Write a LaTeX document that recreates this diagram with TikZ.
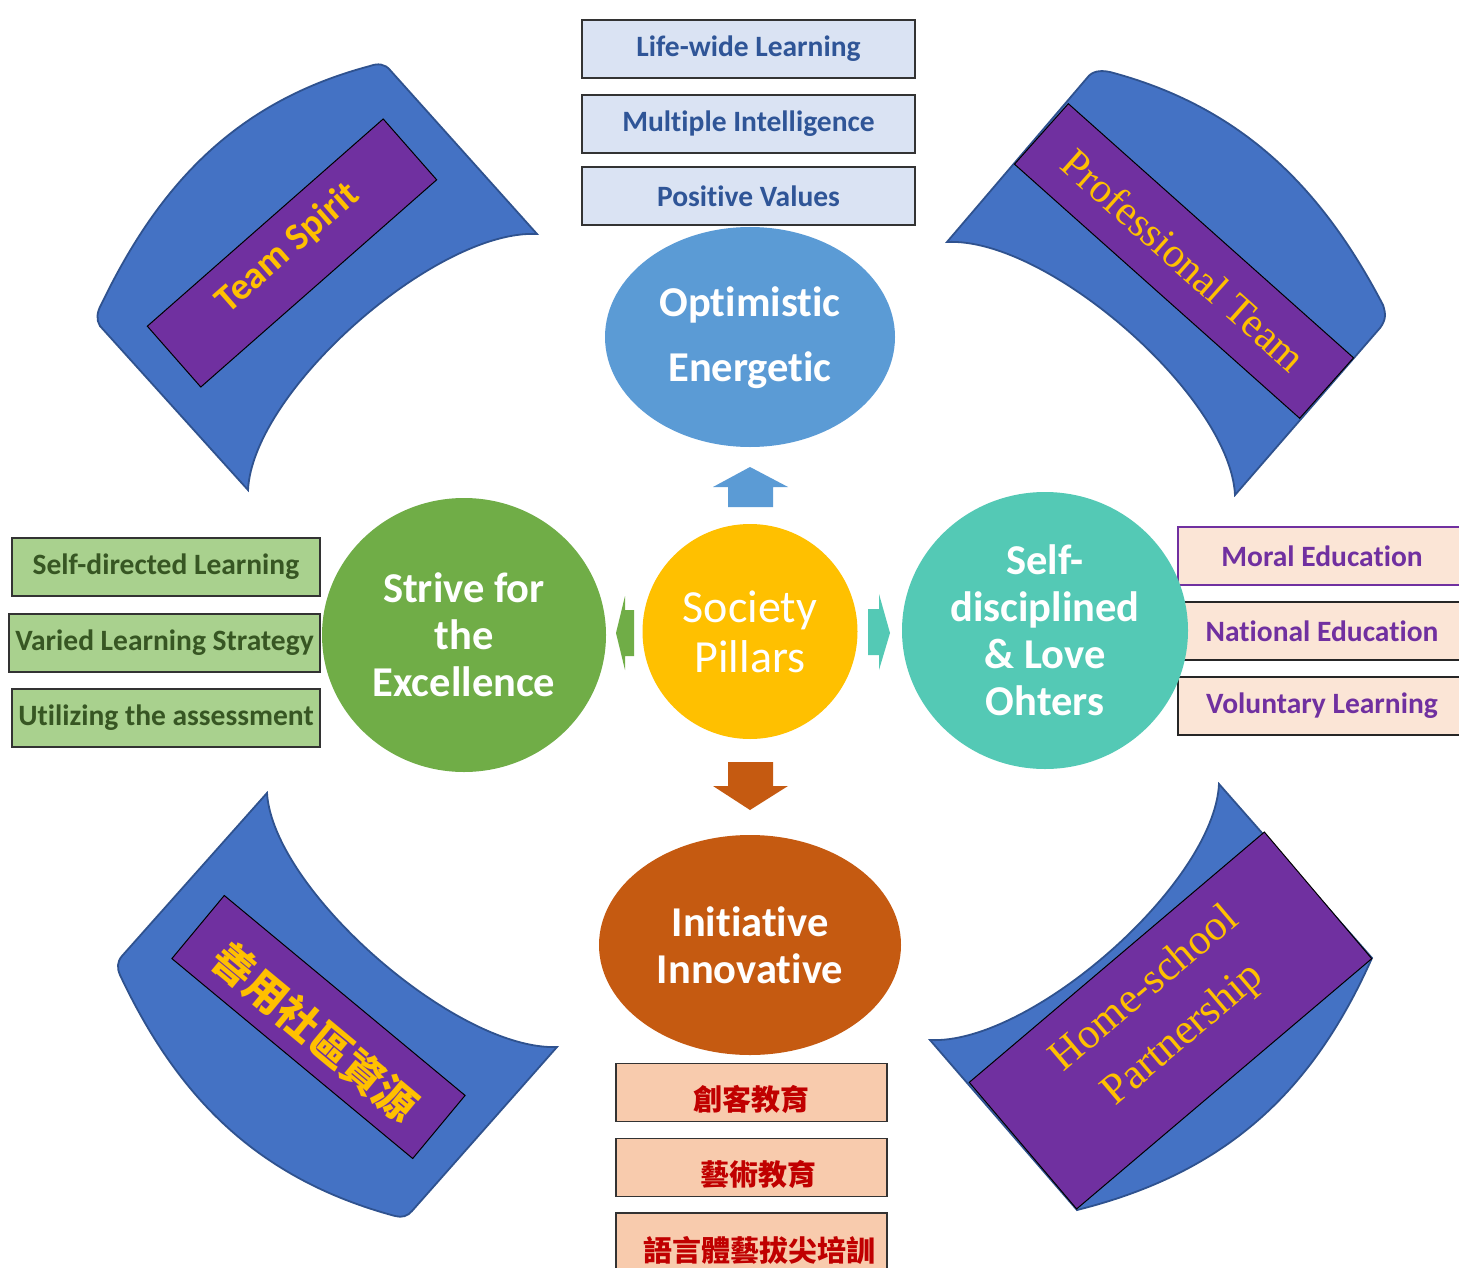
\documentclass[tikz,border=0pt]{standalone}
\usepackage{fontspec}
\setmainfont{Carlito}[RawFeature={-liga;-clig;-dlig;-calt;-rlig}]
\newfontfamily\serifx{Liberation Serif}
\newfontfamily\cjk{Noto Sans CJK TC}
\usetikzlibrary{shapes.geometric,calc}
\newcommand\tii{t\kern0pt i}
\definecolor{bandblue}{HTML}{4472C4}
\definecolor{bandedge}{HTML}{2F528F}
\definecolor{purp}{HTML}{7030A0}
\definecolor{gold}{HTML}{FFC000}
\definecolor{skyb}{HTML}{5B9BD5}
\definecolor{boxblue}{HTML}{DAE3F3}
\definecolor{txtblue}{HTML}{2F5597}
\definecolor{grn}{HTML}{70AD47}
\definecolor{lgrn}{HTML}{A9D18E}
\definecolor{dgrn}{HTML}{375623}
\definecolor{teal2}{RGB}{84,201,181}
\definecolor{peach}{HTML}{FBE5D6}
\definecolor{rust}{HTML}{C55A11}
\definecolor{salmon}{HTML}{F8CBAD}
\definecolor{dred}{HTML}{C00000}
\begin{document}
\begin{tikzpicture}[x=1pt,y=-1pt,
  banner/.style={fill=bandblue,draw=bandedge,line width=1.8},
  pband/.style={fill=purp,draw=black,line width=1,inner sep=0,rectangle},
  bandtxt/.style={text=gold,inner sep=0,align=center},
  topbox/.style={draw=black!80,line width=1.3,fill=boxblue,text=txtblue,
    font=\bfseries\fontsize{29.5}{32}\selectfont,minimum width=333,minimum height=58,inner sep=0},
  gbox/.style={draw=black!80,line width=1.3,fill=lgrn,text=dgrn,
    font=\bfseries\fontsize{29.5}{32}\selectfont,minimum height=58,inner sep=0},
  rbox/.style={draw=black!85,line width=1.3,fill=peach,text=purp,
    font=\bfseries\fontsize{29.5}{32}\selectfont,minimum width=288,minimum height=58,inner sep=0},
  bbox/.style={draw=black!80,line width=1.3,fill=salmon,minimum width=271,minimum height=58,inner sep=0},
  btxt/.style={text=dred,font=\cjk\bfseries\fontsize{29}{32}\selectfont,inner sep=0},
  bigtxt/.style={text=white,font=\bfseries\fontsize{42.5}{47}\selectfont,align=center,inner sep=0},
  blob/.style={ellipse,inner sep=0}]
\useasboundingbox (0,0) rectangle (1459,1268);
\clip (0,0) rectangle (1459,1268);
\fill[white] (0,0) rectangle (1459,1268);

% ---- blue banners ----
\path[banner] (100,326) .. controls (96,320) and (97,312) .. (101,305)
  .. controls (160,182) and (238,101) .. (370,66)
  .. controls (378,63) and (385,64) .. (390,70)
  -- (537,234) .. controls (437,229) and (253,390) .. (248,490) -- cycle;
\path[banner] (1087,78) .. controls (1092,71) and (1100,70) .. (1110,72)
  .. controls (1242,107) and (1322,188) .. (1383,305)
  .. controls (1386,314) and (1386,320) .. (1380,328)
  -- (1235,495) .. controls (1230,396) and (1047,237) .. (947,242) -- cycle;
\path[banner] (267,793) -- (122,956) .. controls (117,962) and (117,968) .. (120,975)
  .. controls (178,1098) and (258,1179) .. (395,1216)
  .. controls (402,1218) and (408,1216) .. (412,1211)
  -- (557,1047) .. controls (457,1051) and (273,890) .. cycle;
\path[banner] (1219,784) -- (1372,958) .. controls (1312,1093) and (1225,1173) .. (1077,1210)
  -- (930,1040) .. controls (1030,1045) and (1214,884) .. cycle;

% ---- purple bands ----
\node[pband,rotate=41.3,minimum width=314,minimum height=81] (ts) at (292,253) {};
\node[bandtxt,rotate=41.3,font=\bfseries\fontsize{38}{44}\selectfont] (tst) at ($(ts.center)+(-4,-5)$) {Team Spirit};
\node[pband,rotate=-41.7,minimum width=382,minimum height=81] (pt) at (1184,261) {};
\node[bandtxt,rotate=-41.7,font=\serifx\fontsize{42}{48}\selectfont] (ptt) at ($(pt.center)+(0,-1)$) {Professional Team};
\node[pband,rotate=-39.7,minimum width=313,minimum height=82] (cr) at (318.5,1027) {};
\node[bandtxt,rotate=-39.7,font=\cjk\bfseries\fontsize{42}{50}\selectfont] (crt) at ($(cr.center)+(-3,5)$) {善用社區資源};
\node[pband,rotate=40.3,minimum width=387,minimum height=166] (hp) at (1170.5,1020.5) {};
\node[bandtxt,rotate=40.3,font=\serifx\fontsize{43}{60}\selectfont] (hpt) at ($(hp.center)+(-6,-8)$) {Home-school\\Partnership};

% ---- top boxes ----
\node[topbox] (lw) at (748.5,49) {Life-wide Learning};
\node[topbox] (mi) at (748.5,124) {Mul\tii ple Intelligence};
\node[topbox] (pv) at (748.5,196) {Posi\tii ve Values};

% ---- left boxes ----
\node[gbox,minimum width=308] (sdl) at (166,567) {Self-directed Learning};
\node[gbox,minimum width=311] (vls) at (164.5,643) {Varied Learning Strategy};
\node[gbox,minimum width=308] (uta) at (166,718) {Utilizing the assessment};

% ---- right boxes ----
\node[rbox,draw=purp] (me) at (1322,556) {Moral Education};
\node[rbox] (ne) at (1322,631) {Na\tii onal Education};
\node[rbox] (vl) at (1322,706) {Voluntary Learning};

% ---- bottom boxes ----
\node[bbox] (b1) at (751.5,1092.5) {};
\node[btxt] (b1t) at ($(b1.center)+(0,7)$) {創客教育};
\node[bbox] (b2) at (751.5,1167.5) {};
\node[btxt] (b2t) at ($(b2.center)+(7,7)$) {藝術教育};
\node[bbox] (b3) at (751.5,1242) {};
\node[btxt] (b3t) at ($(b3.center)+(8,8)$) {語言體藝拔尖培訓};

% ---- main shapes ----
\node[blob,fill=skyb,minimum width=290,minimum height=220] (opt) at (750,337) {};
\node[bigtxt,font=\bfseries\fontsize{42.5}{65}\selectfont] (optt) at ($(opt.center)+(0,1)$) {Op\tii mis\tii c\\Energe\tii c};
\node[blob,fill=grn,minimum width=284,minimum height=274] (sfe) at (464,635) {};
\node[bigtxt] (sfet) at (sfe.center) {Strive for\\the\\Excellence};
\node[blob,fill=teal2,minimum width=286,minimum height=277] (sdl2) at (1045,630.5) {};
\node[bigtxt] (sdlt) at (sdl2.center) {Self-\\disciplined\\\&~Love\\Ohters};
\node[blob,fill=rust,minimum width=302,minimum height=220] (ini) at (750,945) {};
\node[bigtxt] (init) at (ini.center) {Ini\tii a\tii ve\\Innova\tii ve};
\node[circle,fill=gold,minimum size=215,inner sep=0] (sp) at (750,631.5) {};
\node[text=white,font=\fontsize{46}{50}\selectfont,align=center,inner sep=0] (spt) at (sp.center) {Society\\Pillars};

% ---- block arrows ----
\fill[skyb] (750,467) -- (788,487) -- (773,487) -- (773,507) -- (728,507) -- (728,487) -- (713,487) -- cycle;
\fill[rust] (750,810) -- (788,786) -- (773,786) -- (773,762) -- (728,762) -- (728,786) -- (713,786) -- cycle;
\fill[grn] (616,633) -- (625,596) -- (625,610) -- (634,610) -- (634,656) -- (625,656) -- (625,670) -- cycle;
\fill[teal2] (890,633) -- (879,594) -- (879,609) -- (868,609) -- (868,655) -- (879,655) -- (879,670) -- cycle;
\end{tikzpicture}
\end{document}
